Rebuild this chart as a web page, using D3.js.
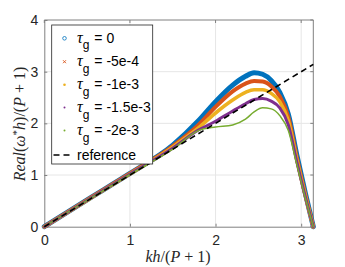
<!DOCTYPE html>
<html><head><meta charset="utf-8">
<script src="https://cdn.jsdelivr.net/npm/d3@7"></script>
<style>body{margin:0;background:#fff}svg{display:block}</style>
</head><body>
<svg id="c" width="345" height="267"></svg>
<script>
const kh = [0, 0.5, 1.0, 1.5, 1.8, 2.0, 2.2, 2.35, 2.45, 2.55, 2.65, 2.75, 2.85, 2.95, 3.05, Math.PI];
const tau0    = [0, 0.52, 1.03, 1.58, 2.05, 2.42, 2.74, 2.91, 2.98, 2.95, 2.83, 2.60, 2.18, 1.38, 0.64, 0];
const tau5e4  = [0, 0.52, 1.03, 1.56, 1.97, 2.32, 2.62, 2.77, 2.82, 2.81, 2.72, 2.52, 2.12, 1.33, 0.61, 0];
const tau1e3  = [0, 0.51, 1.02, 1.54, 1.91, 2.20, 2.45, 2.60, 2.65, 2.65, 2.58, 2.42, 2.05, 1.29, 0.59, 0];
const tau15e3 = [0, 0.51, 1.02, 1.52, 1.87, 2.04, 2.24, 2.38, 2.46, 2.48, 2.43, 2.30, 1.97, 1.25, 0.57, 0];
const tau2e3  = [0, 0.51, 1.01, 1.50, 1.86, 1.93, 1.97, 2.08, 2.22, 2.30, 2.28, 2.15, 1.86, 1.20, 0.55, 0];
const refX = [0, Math.PI];
const refY = [0, Math.PI];
const seriesNames = ["= 0", "= -5e-4", "= -1e-3", "= -1.5e-3", "= -2e-3"];
const xTicks = [0, 1, 2, 3];
const yTicks = [0, 1, 2, 3, 4];

const colors = ["#0072BD", "#D95319", "#EDB120", "#7E2F8E", "#77AC30"];
const widths = [5, 4, 3.6, 3, 1.5];
const allSeries = [tau0, tau5e4, tau1e3, tau15e3, tau2e3];

const svg = d3.select("#c");
const L = 44.3, R = 313.3, T = 20, B = 226.7;
const x = d3.scaleLinear().domain([0, Math.PI]).range([L, R]);
const y = d3.scaleLinear().domain([0, 4]).range([B, T]);
const axCol = "#262626";

// grid
svg.append("g").selectAll("line").data(xTicks.filter(d=>d>0)).join("line")
  .attr("x1", d=>x(d)).attr("x2", d=>x(d)).attr("y1", T).attr("y2", B)
  .attr("stroke", "#e6e6e6").attr("stroke-width", 1);
svg.append("g").selectAll("line").data(yTicks.filter(d=>d>0 && d<4)).join("line")
  .attr("y1", d=>y(d)).attr("y2", d=>y(d)).attr("x1", L).attr("x2", R)
  .attr("stroke", "#e6e6e6").attr("stroke-width", 1);

// axes
const xAxis = svg.append("g").attr("transform", `translate(0,${B})`)
  .call(d3.axisBottom(x).tickValues(xTicks).tickSize(-3).tickPadding(6).tickFormat(d3.format("d")));
const yAxis = svg.append("g").attr("transform", `translate(${L},0)`)
  .call(d3.axisLeft(y).tickValues(yTicks).tickSize(-3).tickPadding(6).tickFormat(d3.format("d")));
[xAxis, yAxis].forEach(a => {
  a.select(".domain").attr("stroke", "#808080");
  a.selectAll(".tick line").attr("stroke", "#808080");
  a.selectAll("text").attr("fill", axCol).attr("font-family", "Liberation Sans, Arial, sans-serif").attr("font-size", 14);
});
xAxis.selectAll("text").attr("dy", "0.9em");
// top/right box
svg.append("line").attr("x1", L).attr("x2", R).attr("y1", T).attr("y2", T).attr("stroke", "#808080");
svg.append("line").attr("x1", R).attr("x2", R).attr("y1", T).attr("y2", B).attr("stroke", "#808080");
svg.append("g").selectAll("line").data(xTicks).join("line")
  .attr("x1", d=>x(d)).attr("x2", d=>x(d)).attr("y1", T).attr("y2", T+3).attr("stroke", "#808080");
svg.append("g").selectAll("line").data(yTicks).join("line")
  .attr("y1", d=>y(d)).attr("y2", d=>y(d)).attr("x1", R).attr("x2", R-3).attr("stroke", "#808080");

// curves
const line = d3.line().x(d=>x(d[0])).y(d=>y(d[1])).curve(d3.curveMonotoneX);
allSeries.forEach((s, i) => {
  svg.append("path").datum(kh.map((k, j) => [k, s[j]]))
    .attr("d", line).attr("fill", "none").attr("stroke", colors[i])
    .attr("stroke-width", widths[i]).attr("stroke-linejoin", "round").attr("stroke-linecap", "round");
});
svg.append("path").datum(refX.map((k, j) => [k, refY[j]]))
  .attr("d", d3.line().x(d=>x(d[0])).y(d=>y(d[1])))
  .attr("fill", "none").attr("stroke", "#000").attr("stroke-width", 1.6).attr("stroke-dasharray", "6,4");

// legend
const lg = svg.append("g");
lg.append("rect").attr("x", 51.7).attr("y", 25).attr("width", 101).attr("height", 139)
  .attr("fill", "#fff").attr("stroke", "#262626").attr("stroke-width", 0.8);
const rowY = [38.3, 61.7, 84.7, 107.5, 130.5, 155];
const font = "Liberation Sans, Arial, sans-serif";
seriesNames.forEach((nm, i) => {
  const cy = rowY[i];
  const mk = lg.append("g").attr("transform", `translate(64.5,${cy})`);
  if (i === 0) mk.append("circle").attr("r", 1.8).attr("fill", "none").attr("stroke", colors[0]).attr("stroke-width", 0.8);
  else if (i === 1) mk.append("path").attr("d", "M-1.5,-1.5L1.5,1.5M-1.5,1.5L1.5,-1.5").attr("stroke", colors[1]).attr("stroke-width", 0.9);
  else mk.append("circle").attr("r", i === 2 ? 1.3 : 1.0).attr("fill", colors[i]);
  const t = lg.append("text").attr("x", 77).attr("y", cy + 4.5).attr("font-family", font).attr("font-size", 14).attr("fill", "#000");
  t.append("tspan").text("τ").attr("font-style", "italic").attr("font-family", "Liberation Serif, serif").attr("font-size", 16);
  t.append("tspan").text("g").attr("font-size", 12).attr("dy", 6.5);
  t.append("tspan").text(" " + nm).attr("dy", -6.5).attr("dx", 1);
});
lg.append("line").attr("x1", 53.5).attr("x2", 72).attr("y1", rowY[5]).attr("y2", rowY[5])
  .attr("stroke", "#000").attr("stroke-width", 1.6).attr("stroke-dasharray", "6,4");
lg.append("text").attr("x", 77).attr("y", rowY[5] + 4.8).attr("font-family", font).attr("font-size", 14).attr("fill", "#000").text("reference");

// axis labels
const serif = "Liberation Serif, Times New Roman, serif";
const xl = svg.append("text").attr("x", 178).attr("y", 262).attr("text-anchor", "middle")
  .attr("font-family", serif).attr("font-size", 16).attr("fill", axCol);
xl.append("tspan").text("kh").attr("font-style", "italic");
xl.append("tspan").text("/(");
xl.append("tspan").text("P").attr("font-style", "italic");
xl.append("tspan").text(" + 1)");

const yl = svg.append("text").attr("transform", "translate(25,124) rotate(-90)").attr("text-anchor", "middle")
  .attr("font-family", serif).attr("font-size", 16).attr("fill", axCol);
yl.append("tspan").text("Real").attr("font-style", "italic");
yl.append("tspan").text("(");
yl.append("tspan").text("ω").attr("font-style", "italic");
yl.append("tspan").text("*").attr("font-size", 11).attr("dy", -5);
yl.append("tspan").text("h").attr("font-style", "italic").attr("dy", 5);
yl.append("tspan").text(")/(");
yl.append("tspan").text("P").attr("font-style", "italic");
yl.append("tspan").text(" + 1)");
</script>
</body></html>
